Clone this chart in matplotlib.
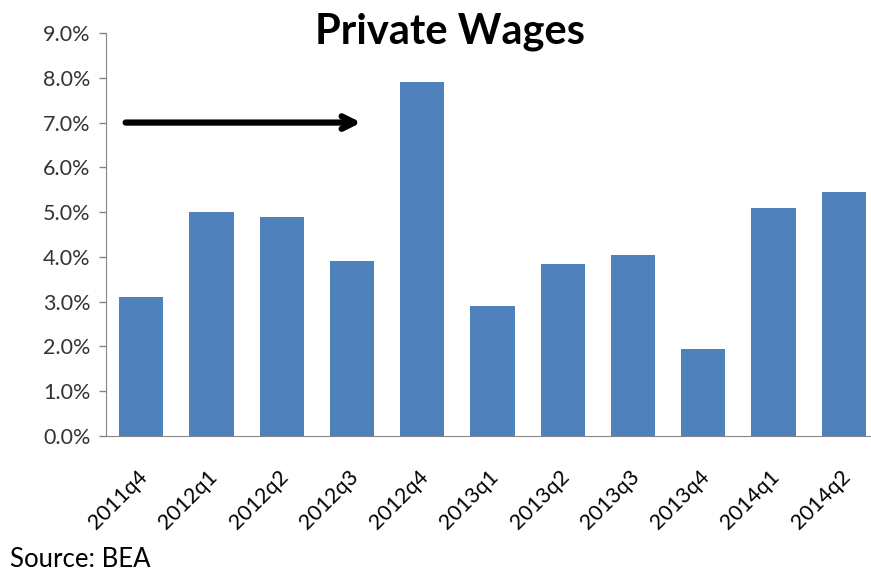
import matplotlib.pyplot as plt
import matplotlib.transforms as mtransforms
from matplotlib.ticker import PercentFormatter

# quarterly private wage growth, in percent
quarters = ['2011q4', '2012q1', '2012q2', '2012q3', '2012q4', '2013q1',
            '2013q2', '2013q3', '2013q4', '2014q1', '2014q2']
wages = [3.1, 5.0, 4.9, 3.9, 7.9, 2.9, 3.85, 4.05, 1.95, 5.1, 5.45]

plt.rcParams['font.family'] = ['Lato', 'DejaVu Sans']

fig = plt.figure(figsize=(8.71, 5.71), dpi=100)
ax = fig.add_axes([0.1217, 0.2364, 0.8875, 0.7058])

x = range(len(quarters))
ax.bar(x, wages, width=0.63, color='#4F81BD')

ax.set_xlim(-0.5, len(quarters) - 0.5)
ax.set_ylim(0, 9)
ax.set_yticks(range(10))
ax.yaxis.set_major_formatter(PercentFormatter(decimals=1))
ax.tick_params(axis='y', labelsize=15.5, colors='#868686', labelcolor='#333333',
               length=5, width=1, pad=6)
ax.set_xticks(list(x))
ax.set_xticklabels(quarters, rotation=45, ha='right', rotation_mode='anchor')
ax.tick_params(axis='x', labelsize=15.5, length=0, pad=22)
# nudge the slanted labels a little to the left
shift = mtransforms.ScaledTranslation(-4 / 100, 0, fig.dpi_scale_trans)
for lbl in ax.get_xticklabels():
    lbl.set_transform(lbl.get_transform() + shift)

for s in ['top', 'right']:
    ax.spines[s].set_visible(False)
for s in ['left', 'bottom']:
    ax.spines[s].set_color('#868686')

# arrow pointing at the 2012q4 spike
ax.annotate('', xy=(3.17, 7.0), xytext=(-0.26, 7.0),
            arrowprops=dict(arrowstyle='->,head_length=0.9,head_width=0.45',
                            lw=4.5, color='black'))

fig.text(0.517, 0.945, 'Private Wages', ha='center', va='center',
         fontsize=30, fontweight='bold')
fig.text(0.012, 0.021, 'Source: BEA', ha='left', va='center', fontsize=18.5)

fig.savefig('out.png', dpi=100)
